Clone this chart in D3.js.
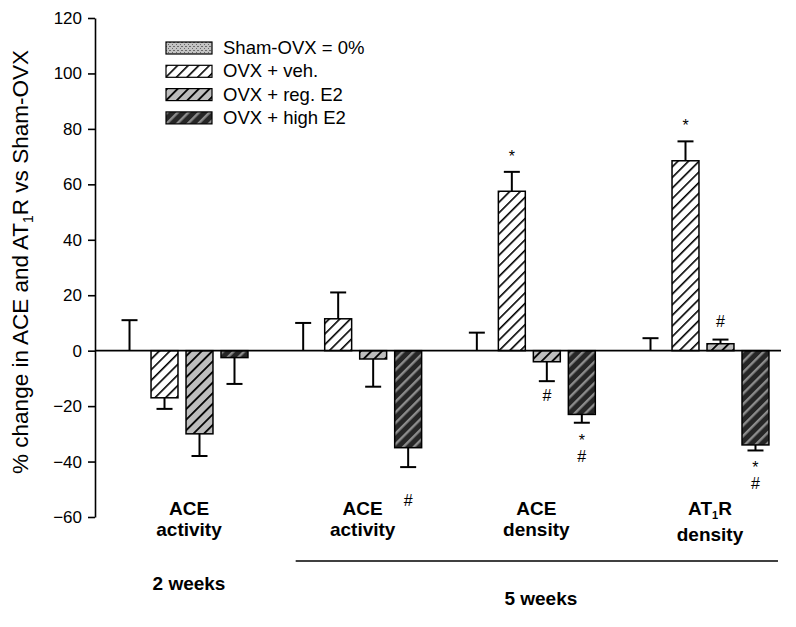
<!DOCTYPE html>
<html>
<head>
<meta charset="utf-8">
<script src="https://cdn.jsdelivr.net/npm/d3@7/dist/d3.min.js"></script>
<style>
  body { margin: 0; background: #fff; }
  svg { display: block; font-family: "Liberation Sans", Arial, sans-serif; }
</style>
</head>
<body>
<div id="vis"></div>
<script>
// frame constants
const FRAME_WIDTH = 796;
const FRAME_HEIGHT = 627;
const AXIS_X = 95;
const Y_TOP = 18;
const Y_BOTTOM = 517;

// data
const groups = ["g1", "g2", "g3", "g4"];
const labelTop = ["ACE", "ACE", "ACE", "AT1R"];
const labelBottom = ["activity", "activity", "density", "density"];
const periods = ["2 weeks", "5 weeks"];

const seriesNames = ["Sham-OVX = 0%", "OVX + veh.", "OVX + reg. E2", "OVX + high E2"];
const seriesKeys = ["sham", "veh", "reg", "high"];

const shamVals = [0, 0, 0, 0];
const shamErr = [11, 10, 6.5, 4.5];
const vehVals = [-17, 11.5, 57.5, 68.5];
const vehErr = [4, 9.5, 7, 7];
const regVals = [-30, -3, -4, 2.5];
const regErr = [8, 10, 7, 1.5];
const highVals = [-2.5, -35, -23, -34];
const highErr = [9.5, 7, 3, 2];

// significance marks, one entry per line of text
const shamMarks = [[], [], [], []];
const vehMarks = [[], [], ["*"], ["*"]];
const regMarks = [[], [], ["#"], ["#"]];
const highMarks = [[], ["", "#"], ["*", "#"], ["*", "#"]];

const yTicks = [-60, -40, -20, 0, 20, 40, 60, 80, 100, 120];

// build table of bars
const allVals = [shamVals, vehVals, regVals, highVals];
const allErr = [shamErr, vehErr, regErr, highErr];
const allMarks = [shamMarks, vehMarks, regMarks, highMarks];
const bars = [];
groups.forEach((g, gi) => {
  seriesKeys.forEach((s, si) => {
    bars.push({group: g, series: s, value: allVals[si][gi], err: allErr[si][gi], marks: allMarks[si][gi]});
  });
});

const svg = d3.select("#vis").append("svg")
  .attr("width", FRAME_WIDTH)
  .attr("height", FRAME_HEIGHT);

// patterns
const defs = svg.append("defs");

// stipple used for the sham fill
function stipple(id, bg, dot) {
  const p = defs.append("pattern").attr("id", id)
    .attr("patternUnits", "userSpaceOnUse").attr("width", 4).attr("height", 4);
  p.append("rect").attr("width", 4).attr("height", 4).attr("fill", bg);
  p.append("rect").attr("x", 0).attr("y", 0).attr("width", 1).attr("height", 1).attr("fill", dot);
  p.append("rect").attr("x", 2).attr("y", 2).attr("width", 1).attr("height", 1).attr("fill", dot);
  p.append("rect").attr("x", 3).attr("y", 0).attr("width", 1).attr("height", 1).attr("fill", dot);
}
stipple("pSham", "#c4c4c4", "#6a6a6a");

function stripes(id, bg, line, w, gap) {
  const p = defs.append("pattern").attr("id", id)
    .attr("patternUnits", "userSpaceOnUse").attr("width", gap).attr("height", gap)
    .attr("patternTransform", "rotate(45)");
  p.append("rect").attr("width", gap).attr("height", gap).attr("fill", bg);
  p.append("rect").attr("x", 0).attr("y", 0).attr("width", w).attr("height", gap).attr("fill", line);
}
stripes("pVeh", "#fff", "#000", 1.6, 7.5);
stripes("pReg", "#bdbdbd", "#000", 1.8, 7.5);
stripes("pHigh", "#262626", "#8c8c8c", 2.4, 7.5);

const fills = {sham: "url(#pSham)", veh: "url(#pVeh)", reg: "url(#pReg)", high: "url(#pHigh)"};

// scales
const Y_SCALE = d3.scaleLinear().domain([-60, 120]).range([Y_BOTTOM, Y_TOP]);

const X_GROUP = d3.scaleBand()
  .domain(groups)
  .range([AXIS_X, 790])
  .paddingInner(0.194)
  .paddingOuter(0.098);

const X_SERIES = d3.scaleBand()
  .domain(seriesKeys)
  .range([0, X_GROUP.bandwidth()])
  .paddingInner(0.23)
  .paddingOuter(0.115);

// y axis
const yAxis = svg.append("g")
  .attr("transform", "translate(" + AXIS_X + ",0)")
  .call(d3.axisLeft(Y_SCALE).tickValues(yTicks).tickSize(7).tickSizeOuter(0).tickPadding(6));
yAxis.select(".domain").attr("stroke", "#000").attr("stroke-width", 1.6);
yAxis.selectAll(".tick line").attr("stroke", "#000").attr("stroke-width", 1.6);
yAxis.selectAll(".tick text").attr("font-size", 17).attr("fill", "#000")
  .attr("font-family", "Liberation Sans, Arial, sans-serif");

// y axis title
svg.append("text")
  .attr("transform", "translate(28," + 262 + ") rotate(-90)")
  .attr("text-anchor", "middle")
  .attr("font-size", 22.5)
  .call(t => {
    t.append("tspan").text("% change in ACE and AT");
    t.append("tspan").attr("font-size", 14).attr("dy", 5).text("1");
    t.append("tspan").attr("dy", -5).text("R vs Sham-OVX");
  });

// bars
const barG = svg.append("g");
barG.selectAll("rect.bar")
  .data(bars.filter(d => d.value !== 0))
  .enter()
  .append("rect")
    .attr("class", "bar")
    .attr("x", d => X_GROUP(d.group) + X_SERIES(d.series))
    .attr("y", d => Y_SCALE(Math.max(0, d.value)))
    .attr("width", X_SERIES.bandwidth())
    .attr("height", d => Math.abs(Y_SCALE(d.value) - Y_SCALE(0)))
    .attr("fill", d => fills[d.series])
    .attr("stroke", "#000")
    .attr("stroke-width", 1.5);

// error bars
const errEnd = d => d.value >= 0 ? d.value + d.err : d.value - d.err;
const cx = d => X_GROUP(d.group) + X_SERIES(d.series) + X_SERIES.bandwidth() / 2;
const errG = barG.selectAll("g.err")
  .data(bars)
  .enter()
  .append("g")
    .attr("class", "err");
errG.append("line")
  .attr("x1", cx).attr("x2", cx)
  .attr("y1", d => Y_SCALE(d.value))
  .attr("y2", d => Y_SCALE(errEnd(d)))
  .attr("stroke", "#000").attr("stroke-width", 2);
errG.append("line")
  .attr("x1", d => cx(d) - 8).attr("x2", d => cx(d) + 8)
  .attr("y1", d => Y_SCALE(errEnd(d)))
  .attr("y2", d => Y_SCALE(errEnd(d)))
  .attr("stroke", "#000").attr("stroke-width", 2);

// significance marks
errG.each(function(d) {
  const g = d3.select(this);
  d.marks.forEach((m, i) => {
    const up = d.value >= 0;
    const y = up ? Y_SCALE(errEnd(d)) - 13 - i * 19 : Y_SCALE(errEnd(d)) + 20 + i * 19;
    g.append("text")
      .attr("x", cx(d))
      .attr("y", m === "*" ? y + 3 : y)
      .attr("text-anchor", "middle")
      .attr("font-size", m === "*" ? 16 : 16)
      .text(m);
  });
});

// zero line
svg.append("line")
  .attr("x1", AXIS_X).attr("x2", 781)
  .attr("y1", Y_SCALE(0)).attr("y2", Y_SCALE(0))
  .attr("stroke", "#000").attr("stroke-width", 1.6);

// group labels
const labG = svg.selectAll("g.lab")
  .data(groups)
  .enter()
  .append("g")
    .attr("class", "lab")
    .attr("font-weight", "bold")
    .attr("font-size", 19)
    .attr("text-anchor", "middle");
labG.append("text")
  .attr("x", g => X_GROUP(g) + X_GROUP.bandwidth() / 2 + 7)
  .attr("y", 515)
  .each(function(g, i) {
    const t = d3.select(this);
    if (labelTop[i] === "AT1R") {
      t.append("tspan").text("AT");
      t.append("tspan").attr("font-size", 11).attr("dy", 4).text("1");
      t.append("tspan").attr("dy", -4).text("R");
    } else {
      t.text(labelTop[i]);
    }
  });
labG.append("text")
  .attr("x", g => X_GROUP(g) + X_GROUP.bandwidth() / 2 + 7)
  .attr("y", (g, i) => labelTop[i] === "AT1R" ? 541 : 536)
  .text((g, i) => labelBottom[i]);

// period labels and bracket line
const lineX1 = X_GROUP("g2") + 10;
const lineX2 = X_GROUP("g4") + X_GROUP.bandwidth() + 5;
svg.append("line")
  .attr("x1", lineX1).attr("x2", lineX2)
  .attr("y1", 561).attr("y2", 561)
  .attr("stroke", "#000").attr("stroke-width", 1.3);

svg.append("text")
  .attr("x", X_GROUP("g1") + X_GROUP.bandwidth() / 2 + 7)
  .attr("y", 590)
  .attr("text-anchor", "middle").attr("font-weight", "bold").attr("font-size", 19)
  .text(periods[0]);
svg.append("text")
  .attr("x", (lineX1 + lineX2) / 2 + 4)
  .attr("y", 605)
  .attr("text-anchor", "middle").attr("font-weight", "bold").attr("font-size", 19)
  .text(periods[1]);

// legend
const legend = svg.append("g").attr("transform", "translate(166,42)");
const legRow = legend.selectAll("g")
  .data(seriesKeys)
  .enter()
  .append("g")
    .attr("transform", (d, i) => "translate(0," + (i * 23.3) + ")");
legRow.append("rect")
  .attr("width", 46).attr("height", 12)
  .attr("fill", d => fills[d])
  .attr("stroke", "#000").attr("stroke-width", 1.2);
legRow.append("text")
  .attr("x", 57).attr("y", 12)
  .attr("font-size", 18.5)
  .text((d, i) => seriesNames[i]);
</script>
</body>
</html>
